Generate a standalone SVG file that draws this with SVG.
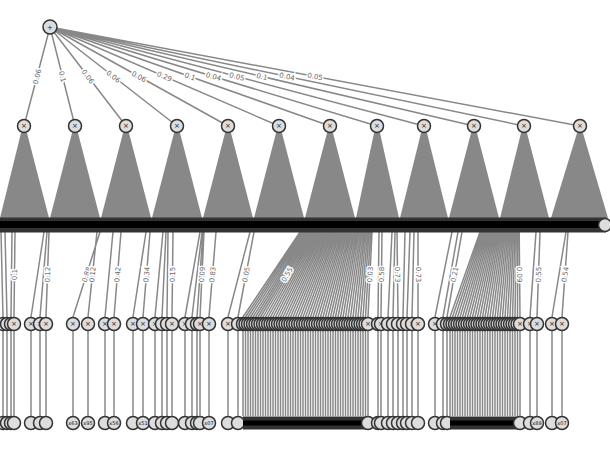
<svg xmlns="http://www.w3.org/2000/svg" xmlns:xlink="http://www.w3.org/1999/xlink" width="610" height="450" viewBox="0 0 610 450">
<style>
.e{stroke:#888;stroke-width:1.5;fill:none}
.tri{fill:#888;stroke:none}
.nd{fill:#ddd;stroke:#333;stroke-width:1.5}
.op{font-family:"DejaVu Sans",sans-serif;font-size:7px;text-anchor:middle;fill:#222}
.lf{font-family:"DejaVu Sans",sans-serif;font-size:5px;text-anchor:middle;fill:#111}
.lb{font-family:"DejaVu Sans",sans-serif;font-size:7px;fill:#666;text-anchor:middle;stroke:#fff;stroke-width:3;paint-order:stroke}
</style>
<defs>
<g id="pn"><circle r="6.5" class="nd"/><text class="op" y="2.3">×</text></g>
<circle id="lc" r="6.5" class="nd"/>
</defs>
<rect width="610" height="450" fill="#fff"/>
<g id="connectors">
<path class="e" d="M50 27L24 126M50 27L75 126M50 27L126 126M50 27L177 126M50 27L228 126M50 27L279 126M50 27L330 126M50 27L377 126M50 27L424 126M50 27L474 126M50 27L524 126M50 27L580 126"/>
<g id="fans">
<polygon class="tri" points="21,133 27,133 49,218 0,218"/>
<polygon class="tri" points="72,133 78,133 100,218 50,218"/>
<polygon class="tri" points="123,133 129,133 151,218 101,218"/>
<polygon class="tri" points="174,133 180,133 202,218 152,218"/>
<polygon class="tri" points="225,133 231,133 253,218 203,218"/>
<polygon class="tri" points="276,133 282,133 304,218 254,218"/>
<polygon class="tri" points="327,133 333,133 355,218 305,218"/>
<polygon class="tri" points="374,133 380,133 399,218 356,218"/>
<polygon class="tri" points="421,133 427,133 448,218 400,218"/>
<polygon class="tri" points="471,133 477,133 499,218 449,218"/>
<polygon class="tri" points="521,133 527,133 549,218 500,218"/>
<polygon class="tri" points="577,133 583,133 608,218 551,218"/>
</g>
<path class="e" d="M1 232L3 317M5 232L7 317M12 232L11 317M15 232L14 317M44 232L31 317M47 232L40 317M49 232L46 317M100 232L73 317M97 232L88 317M113 232L105 317M121 232L114 317M146 232L133 317M150 232L143 317M163 232L155 317M166 232L162 317M168 232L167 317M173 232L172 317M200 232L185 317M202 232L192 317M203 232L197 317M204 232L200 317M216 232L209 317M250 232L228 317M254 232L238 317M379 232L378 317M382 232L381 317M392 232L388 317M395 232L393 317M397 232L398 317M405 232L403 317M410 232L407 317M414 232L412 317M418 232L418 317M452 232L435 317M458 232L443 317M462 232L447 317M536 232L530 317M540 232L537 317M566 232L552 317M568 232L562 317"/>
<path class="e" d="M300 232L243 317M301.4 232L245.5 317M302.9 232L248 317M304.3 232L250.5 317M305.8 232L253 317M307.2 232L255.5 317M308.6 232L258 317M310.1 232L260.5 317M311.5 232L263 317M313 232L265.5 317M314.4 232L268 317M315.8 232L270.5 317M317.3 232L273 317M318.7 232L275.5 317M320.2 232L278 317M321.6 232L280.5 317M323 232L283 317M324.5 232L285.5 317M325.9 232L288 317M327.4 232L290.5 317M328.8 232L293 317M330.2 232L295.5 317M331.7 232L298 317M333.1 232L300.5 317M334.6 232L303 317M336 232L305.5 317M337.4 232L308 317M338.9 232L310.5 317M340.3 232L313 317M341.8 232L315.5 317M343.2 232L318 317M344.6 232L320.5 317M346.1 232L323 317M347.5 232L325.5 317M349 232L328 317M350.4 232L330.5 317M351.8 232L333 317M353.3 232L335.5 317M354.7 232L338 317M356.2 232L340.5 317M357.6 232L343 317M359 232L345.5 317M360.5 232L348 317M361.9 232L350.5 317M363.4 232L353 317M364.8 232L355.5 317M366.2 232L358 317M367.7 232L360.5 317M369.1 232L363 317M370.6 232L365.5 317M372 232L368 317"/>
<path class="e" d="M480 232L450 317M481.4 232L452.5 317M482.8 232L455 317M484.2 232L457.5 317M485.6 232L460 317M487 232L462.5 317M488.4 232L465 317M489.8 232L467.5 317M491.2 232L470 317M492.6 232L472.5 317M494 232L475 317M495.4 232L477.5 317M496.8 232L480 317M498.2 232L482.5 317M499.6 232L485 317M501 232L487.5 317M502.4 232L490 317M503.8 232L492.5 317M505.2 232L495 317M506.6 232L497.5 317M508 232L500 317M509.4 232L502.5 317M510.8 232L505 317M512.2 232L507.5 317M513.6 232L510 317M515 232L512.5 317M516.4 232L515 317M517.8 232L517.5 317M519.2 232L520 317"/>
<path class="e" d="M3 331V416M7 331V416M11 331V416M14 331V416M31 331V416M40 331V416M46 331V416M73 331V416M88 331V416M105 331V416M114 331V416M133 331V416M143 331V416M155 331V416M162 331V416M167 331V416M172 331V416M185 331V416M192 331V416M197 331V416M200 331V416M209 331V416M228 331V416M238 331V416M378 331V416M381 331V416M388 331V416M393 331V416M398 331V416M403 331V416M407 331V416M412 331V416M418 331V416M435 331V416M443 331V416M447 331V416M530 331V416M537 331V416M552 331V416M562 331V416"/>
<path class="e" d="M243 331V416M245.5 331V416M248 331V416M250.5 331V416M253 331V416M255.5 331V416M258 331V416M260.5 331V416M263 331V416M265.5 331V416M268 331V416M270.5 331V416M273 331V416M275.5 331V416M278 331V416M280.5 331V416M283 331V416M285.5 331V416M288 331V416M290.5 331V416M293 331V416M295.5 331V416M298 331V416M300.5 331V416M303 331V416M305.5 331V416M308 331V416M310.5 331V416M313 331V416M315.5 331V416M318 331V416M320.5 331V416M323 331V416M325.5 331V416M328 331V416M330.5 331V416M333 331V416M335.5 331V416M338 331V416M340.5 331V416M343 331V416M345.5 331V416M348 331V416M350.5 331V416M353 331V416M355.5 331V416M358 331V416M360.5 331V416M363 331V416M365.5 331V416M368 331V416M450 331V416M452.5 331V416M455 331V416M457.5 331V416M460 331V416M462.5 331V416M465 331V416M467.5 331V416M470 331V416M472.5 331V416M475 331V416M477.5 331V416M480 331V416M482.5 331V416M485 331V416M487.5 331V416M490 331V416M492.5 331V416M495 331V416M497.5 331V416M500 331V416M502.5 331V416M505 331V416M507.5 331V416M510 331V416M512.5 331V416M515 331V416M517.5 331V416M520 331V416"/>
</g>
<g id="edge-labels">
<text class="lb" transform="translate(37,76.5) rotate(-75.3)" dy="2.5">0.06</text>
<text class="lb" transform="translate(62.5,76.5) rotate(75.8)" dy="2.5">0.1</text>
<text class="lb" transform="translate(88,76.5) rotate(52.5)" dy="2.5">0.06</text>
<text class="lb" transform="translate(113.5,76.5) rotate(37.9)" dy="2.5">0.06</text>
<text class="lb" transform="translate(139,76.5) rotate(29.1)" dy="2.5">0.06</text>
<text class="lb" transform="translate(164.5,76.5) rotate(23.4)" dy="2.5">0.29</text>
<text class="lb" transform="translate(190,76.5) rotate(19.5)" dy="2.5">0.1</text>
<text class="lb" transform="translate(213.5,76.5) rotate(16.8)" dy="2.5">0.04</text>
<text class="lb" transform="translate(237,76.5) rotate(14.8)" dy="2.5">0.05</text>
<text class="lb" transform="translate(262,76.5) rotate(13.1)" dy="2.5">0.1</text>
<text class="lb" transform="translate(287,76.5) rotate(11.8)" dy="2.5">0.04</text>
<text class="lb" transform="translate(315,76.5) rotate(10.6)" dy="2.5">0.05</text>
<text class="lb" transform="translate(14.5,274.5) rotate(-88)" dy="2.5">0.1</text>
<text class="lb" transform="translate(47.5,274.5) rotate(-88)" dy="2.5">0.12</text>
<text class="lb" transform="translate(86.5,274.5) rotate(-72)" dy="2.5">0.88</text>
<text class="lb" transform="translate(92.5,274.5) rotate(-84)" dy="2.5">0.12</text>
<text class="lb" transform="translate(117.5,274.5) rotate(-85)" dy="2.5">0.42</text>
<text class="lb" transform="translate(146.5,274.5) rotate(-85)" dy="2.5">0.34</text>
<text class="lb" transform="translate(172.5,274.5) rotate(-89)" dy="2.5">0.15</text>
<text class="lb" transform="translate(202,274.5) rotate(-87)" dy="2.5">0.09</text>
<text class="lb" transform="translate(212.5,274.5) rotate(-85)" dy="2.5">0.83</text>
<text class="lb" transform="translate(246,274.5) rotate(-79)" dy="2.5">0.05</text>
<text class="lb" transform="translate(287,274.5) rotate(-59)" dy="2.5">0.55</text>
<text class="lb" transform="translate(370,274.5) rotate(-87)" dy="2.5">0.03</text>
<text class="lb" transform="translate(381.5,274.5) rotate(-89)" dy="2.5">0.58</text>
<text class="lb" transform="translate(397.5,274.5) rotate(89)" dy="2.5">0.73</text>
<text class="lb" transform="translate(418,274.5) rotate(90)" dy="2.5">0.73</text>
<text class="lb" transform="translate(454.5,274.5) rotate(-80)" dy="2.5">0.21</text>
<text class="lb" transform="translate(519.5,274.5) rotate(89)" dy="2.5">0.09</text>
<text class="lb" transform="translate(538.5,274.5) rotate(-88)" dy="2.5">0.55</text>
<text class="lb" transform="translate(565,274.5) rotate(-81)" dy="2.5">0.54</text>
</g>
<g id="sum-layer">
<rect x="-2" y="217.5" width="608" height="15" fill="#333"/>
<rect x="-2" y="221" width="606" height="7" fill="#000"/>
<circle id="s-last" cx="605" cy="225" r="6.5" class="nd"/>
</g>
<g id="root"><circle cx="50" cy="27" r="7" class="nd"/><text class="op" x="50" y="29.5">+</text></g>
<g id="products">
<use id="p1" xlink:href="#pn" x="24" y="126"/>
<use id="p2" xlink:href="#pn" x="75" y="126"/>
<use id="p3" xlink:href="#pn" x="126" y="126"/>
<use id="p4" xlink:href="#pn" x="177" y="126"/>
<use id="p5" xlink:href="#pn" x="228" y="126"/>
<use id="p6" xlink:href="#pn" x="279" y="126"/>
<use id="p7" xlink:href="#pn" x="330" y="126"/>
<use id="p8" xlink:href="#pn" x="377" y="126"/>
<use id="p9" xlink:href="#pn" x="424" y="126"/>
<use id="p10" xlink:href="#pn" x="474" y="126"/>
<use id="p11" xlink:href="#pn" x="524" y="126"/>
<use id="p12" xlink:href="#pn" x="580" y="126"/>
</g>
<g id="lower-products">
<use xlink:href="#pn" x="3" y="324"/><use xlink:href="#pn" x="7" y="324"/><use xlink:href="#pn" x="11" y="324"/><use xlink:href="#pn" x="14" y="324"/>
<use xlink:href="#pn" x="31" y="324"/><use xlink:href="#pn" x="40" y="324"/><use xlink:href="#pn" x="46" y="324"/>
<use xlink:href="#pn" x="73" y="324"/><use xlink:href="#pn" x="88" y="324"/><use xlink:href="#pn" x="105" y="324"/><use xlink:href="#pn" x="114" y="324"/>
<use xlink:href="#pn" x="133" y="324"/><use xlink:href="#pn" x="143" y="324"/>
<use xlink:href="#pn" x="155" y="324"/><use xlink:href="#pn" x="162" y="324"/><use xlink:href="#pn" x="167" y="324"/><use xlink:href="#pn" x="172" y="324"/>
<use xlink:href="#pn" x="185" y="324"/><use xlink:href="#pn" x="192" y="324"/><use xlink:href="#pn" x="197" y="324"/><use xlink:href="#pn" x="200" y="324"/><use xlink:href="#pn" x="209" y="324"/>
<use xlink:href="#pn" x="228" y="324"/><use xlink:href="#pn" x="238" y="324"/>
<use xlink:href="#pn" x="243" y="324"/><use xlink:href="#pn" x="245.5" y="324"/><use xlink:href="#pn" x="248" y="324"/><use xlink:href="#pn" x="250.5" y="324"/><use xlink:href="#pn" x="253" y="324"/><use xlink:href="#pn" x="255.5" y="324"/><use xlink:href="#pn" x="258" y="324"/><use xlink:href="#pn" x="260.5" y="324"/><use xlink:href="#pn" x="263" y="324"/><use xlink:href="#pn" x="265.5" y="324"/><use xlink:href="#pn" x="268" y="324"/><use xlink:href="#pn" x="270.5" y="324"/><use xlink:href="#pn" x="273" y="324"/><use xlink:href="#pn" x="275.5" y="324"/><use xlink:href="#pn" x="278" y="324"/><use xlink:href="#pn" x="280.5" y="324"/><use xlink:href="#pn" x="283" y="324"/><use xlink:href="#pn" x="285.5" y="324"/><use xlink:href="#pn" x="288" y="324"/><use xlink:href="#pn" x="290.5" y="324"/><use xlink:href="#pn" x="293" y="324"/><use xlink:href="#pn" x="295.5" y="324"/><use xlink:href="#pn" x="298" y="324"/><use xlink:href="#pn" x="300.5" y="324"/><use xlink:href="#pn" x="303" y="324"/><use xlink:href="#pn" x="305.5" y="324"/><use xlink:href="#pn" x="308" y="324"/><use xlink:href="#pn" x="310.5" y="324"/><use xlink:href="#pn" x="313" y="324"/><use xlink:href="#pn" x="315.5" y="324"/><use xlink:href="#pn" x="318" y="324"/><use xlink:href="#pn" x="320.5" y="324"/><use xlink:href="#pn" x="323" y="324"/><use xlink:href="#pn" x="325.5" y="324"/><use xlink:href="#pn" x="328" y="324"/><use xlink:href="#pn" x="330.5" y="324"/><use xlink:href="#pn" x="333" y="324"/><use xlink:href="#pn" x="335.5" y="324"/><use xlink:href="#pn" x="338" y="324"/><use xlink:href="#pn" x="340.5" y="324"/><use xlink:href="#pn" x="343" y="324"/><use xlink:href="#pn" x="345.5" y="324"/><use xlink:href="#pn" x="348" y="324"/><use xlink:href="#pn" x="350.5" y="324"/><use xlink:href="#pn" x="353" y="324"/><use xlink:href="#pn" x="355.5" y="324"/><use xlink:href="#pn" x="358" y="324"/><use xlink:href="#pn" x="360.5" y="324"/><use xlink:href="#pn" x="363" y="324"/><use xlink:href="#pn" x="365.5" y="324"/><use xlink:href="#pn" x="368" y="324"/>
<use xlink:href="#pn" x="378" y="324"/><use xlink:href="#pn" x="381" y="324"/><use xlink:href="#pn" x="388" y="324"/><use xlink:href="#pn" x="393" y="324"/><use xlink:href="#pn" x="398" y="324"/><use xlink:href="#pn" x="403" y="324"/><use xlink:href="#pn" x="407" y="324"/><use xlink:href="#pn" x="412" y="324"/><use xlink:href="#pn" x="418" y="324"/>
<use xlink:href="#pn" x="435" y="324"/><use xlink:href="#pn" x="443" y="324"/><use xlink:href="#pn" x="447" y="324"/>
<use xlink:href="#pn" x="450" y="324"/><use xlink:href="#pn" x="452.5" y="324"/><use xlink:href="#pn" x="455" y="324"/><use xlink:href="#pn" x="457.5" y="324"/><use xlink:href="#pn" x="460" y="324"/><use xlink:href="#pn" x="462.5" y="324"/><use xlink:href="#pn" x="465" y="324"/><use xlink:href="#pn" x="467.5" y="324"/><use xlink:href="#pn" x="470" y="324"/><use xlink:href="#pn" x="472.5" y="324"/><use xlink:href="#pn" x="475" y="324"/><use xlink:href="#pn" x="477.5" y="324"/><use xlink:href="#pn" x="480" y="324"/><use xlink:href="#pn" x="482.5" y="324"/><use xlink:href="#pn" x="485" y="324"/><use xlink:href="#pn" x="487.5" y="324"/><use xlink:href="#pn" x="490" y="324"/><use xlink:href="#pn" x="492.5" y="324"/><use xlink:href="#pn" x="495" y="324"/><use xlink:href="#pn" x="497.5" y="324"/><use xlink:href="#pn" x="500" y="324"/><use xlink:href="#pn" x="502.5" y="324"/><use xlink:href="#pn" x="505" y="324"/><use xlink:href="#pn" x="507.5" y="324"/><use xlink:href="#pn" x="510" y="324"/><use xlink:href="#pn" x="512.5" y="324"/><use xlink:href="#pn" x="515" y="324"/><use xlink:href="#pn" x="517.5" y="324"/><use xlink:href="#pn" x="520" y="324"/>
<use xlink:href="#pn" x="530" y="324"/><use xlink:href="#pn" x="537" y="324"/><use xlink:href="#pn" x="552" y="324"/><use xlink:href="#pn" x="562" y="324"/>
</g>
<g id="leaves">
<use xlink:href="#lc" x="3" y="423"/><use xlink:href="#lc" x="7" y="423"/><use xlink:href="#lc" x="11" y="423"/><use xlink:href="#lc" x="14" y="423"/>
<use xlink:href="#lc" x="31" y="423"/><use xlink:href="#lc" x="40" y="423"/><use xlink:href="#lc" x="46" y="423"/>
<use xlink:href="#lc" x="73" y="423"/><use xlink:href="#lc" x="88" y="423"/><use xlink:href="#lc" x="105" y="423"/><use xlink:href="#lc" x="114" y="423"/>
<use xlink:href="#lc" x="133" y="423"/><use xlink:href="#lc" x="143" y="423"/>
<use xlink:href="#lc" x="155" y="423"/><use xlink:href="#lc" x="162" y="423"/><use xlink:href="#lc" x="167" y="423"/><use xlink:href="#lc" x="172" y="423"/>
<use xlink:href="#lc" x="185" y="423"/><use xlink:href="#lc" x="192" y="423"/><use xlink:href="#lc" x="197" y="423"/><use xlink:href="#lc" x="200" y="423"/><use xlink:href="#lc" x="209" y="423"/>
<use xlink:href="#lc" x="228" y="423"/><use xlink:href="#lc" x="238" y="423"/>
<rect x="243" y="416.5" width="125" height="13" fill="#333"/><rect x="243" y="420.5" width="125" height="5" fill="#000"/>
<use xlink:href="#lc" x="368" y="423"/>
<use xlink:href="#lc" x="378" y="423"/><use xlink:href="#lc" x="381" y="423"/><use xlink:href="#lc" x="388" y="423"/><use xlink:href="#lc" x="393" y="423"/><use xlink:href="#lc" x="398" y="423"/><use xlink:href="#lc" x="403" y="423"/><use xlink:href="#lc" x="407" y="423"/><use xlink:href="#lc" x="412" y="423"/><use xlink:href="#lc" x="418" y="423"/>
<use xlink:href="#lc" x="435" y="423"/><use xlink:href="#lc" x="443" y="423"/><use xlink:href="#lc" x="447" y="423"/>
<rect x="450" y="416.5" width="70" height="13" fill="#333"/><rect x="450" y="420.5" width="70" height="5" fill="#000"/>
<use xlink:href="#lc" x="520" y="423"/>
<use xlink:href="#lc" x="530" y="423"/><use xlink:href="#lc" x="537" y="423"/><use xlink:href="#lc" x="552" y="423"/><use xlink:href="#lc" x="562" y="423"/>
<text class="lf" x="73" y="424.8">x63</text>
<text class="lf" x="88" y="424.8">x95</text>
<text class="lf" x="114" y="424.8">x56</text>
<text class="lf" x="143" y="424.8">x51</text>
<text class="lf" x="209" y="424.8">x07</text>
<text class="lf" x="537" y="424.8">x89</text>
<text class="lf" x="562" y="424.8">x07</text>
</g>
</svg>
